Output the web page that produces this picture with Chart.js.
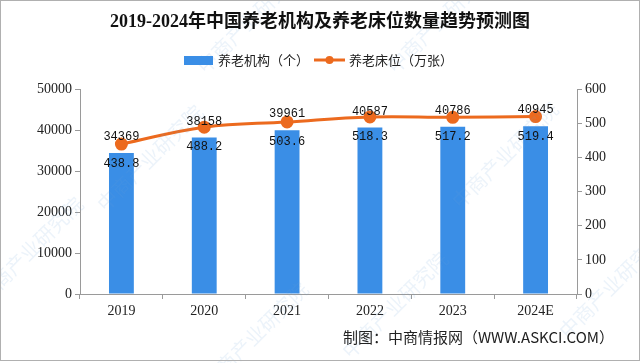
<!DOCTYPE html>
<html>
<head>
<meta charset="utf-8">
<script src="https://cdn.jsdelivr.net/npm/chart.js@4"></script>
<style>
  html, body { margin: 0; padding: 0; background: #fff; }
  #wrap { width: 640px; height: 363px; }
</style>
</head>
<body>
<div id="wrap"><canvas id="chart" width="640" height="363"></canvas></div>
<script>
// data
const years = ['2019', '2020', '2021', '2022', '2023', '2024E'];
const institutions = [34369, 38158, 39961, 40587, 40786, 40945]; // 养老机构（个）
const beds = [438.8, 488.2, 503.6, 518.3, 517.2, 519.4];        // 养老床位（万张）
const leftTicks = [0, 10000, 20000, 30000, 40000, 50000];
const rightTicks = [0, 100, 200, 300, 400, 500, 600];

const BLUE = '#3a8ee6';
const ORANGE = '#ec6a1e';
const AXIS = '#9a9a9a';
const serif = '"Liberation Serif", "Noto Sans CJK SC", serif';
const cjk = '"Noto Sans CJK SC", sans-serif';
const mono = '"Liberation Mono", monospace';

// 🔹 titles, legend, labels, watermark
const extras = {
    id: 'extras',
    afterDatasetsDraw(chart) {
        const ctx = chart.ctx;
        ctx.save();

        // faint watermark
        ctx.fillStyle = 'rgba(110,160,215,0.13)';
        ctx.font = '20px ' + cjk;
        ctx.textAlign = 'center';
        ctx.textBaseline = 'middle';
        [[150, 158], [505, 155], [395, 305], [30, 250], [612, 285], [255, 335], [250, 20], [440, 20]].forEach(p => {
            ctx.save();
            ctx.translate(p[0], p[1]);
            ctx.rotate(-Math.PI / 4);
            ctx.fillText('中商产业研究院', 0, 0);
            ctx.restore();
        });

        // value labels
        const barMeta = chart.getDatasetMeta(1);
        const lineMeta = chart.getDatasetMeta(0);
        ctx.fillStyle = '#111';
        ctx.font = '12px ' + mono;
        barMeta.data.forEach((bar, i) => {
            ctx.fillText(String(institutions[i]), bar.x, bar.y - 16);
        });
        lineMeta.data.forEach((pt, i) => {
            ctx.fillText(beds[i].toFixed(1), pt.x, pt.y + 20);
        });

        ctx.restore();
    },
    afterDraw(chart) {
        const ctx = chart.ctx;
        ctx.save();

        // title
        ctx.fillStyle = '#111';
        ctx.font = 'bold 18px ' + serif;
        ctx.textAlign = 'center';
        ctx.textBaseline = 'middle';
        ctx.fillText('2019-2024年中国养老机构及养老床位数量趋势预测图', 320, 22);

        // legend
        ctx.fillStyle = BLUE;
        ctx.fillRect(184, 56, 29, 9);
        ctx.fillStyle = '#222';
        ctx.font = '13px ' + cjk;
        ctx.textAlign = 'left';
        ctx.fillText('养老机构（个）', 218, 60);
        ctx.strokeStyle = ORANGE;
        ctx.lineWidth = 3;
        ctx.beginPath();
        ctx.moveTo(314, 60);
        ctx.lineTo(345, 60);
        ctx.stroke();
        ctx.fillStyle = ORANGE;
        ctx.beginPath();
        ctx.arc(329.5, 60, 4, 0, Math.PI * 2);
        ctx.fill();
        ctx.fillStyle = '#222';
        ctx.fillText('养老床位（万张）', 349, 60);

        // source
        ctx.font = '15px ' + cjk;
        ctx.textAlign = 'right';
        ctx.fillStyle = '#222';
        ctx.fillText('制图：中商情报网（WWW.ASKCI.COM）', 614, 337);

        // frame
        ctx.strokeStyle = '#b0b0b0';
        ctx.lineWidth = 1;
        ctx.strokeRect(0.5, 0.5, 639, 360);

        ctx.restore();
    }
};

const tickFont = { family: serif, size: 14 };
const plain = v => String(v);

new Chart(document.getElementById('chart'), {
    type: 'bar',
    data: {
        labels: years,
        datasets: [{
            type: 'line',
            label: '养老床位（万张）',
            data: beds,
            yAxisID: 'y1',
            borderColor: ORANGE,
            backgroundColor: ORANGE,
            borderWidth: 3,
            pointRadius: 5,
            pointHoverRadius: 5,
            tension: 0.4,
            order: 0
        }, {
            type: 'bar',
            label: '养老机构（个）',
            data: institutions,
            yAxisID: 'y',
            backgroundColor: BLUE,
            barPercentage: 0.3,
            categoryPercentage: 1,
            order: 1
        }]
    },
    options: {
        responsive: false,
        animation: false,
        devicePixelRatio: 1,
        layout: { padding: { top: 89, bottom: 39, left: 0, right: 0 } },
        plugins: {
            legend: { display: false },
            title: { display: false },
            tooltip: { enabled: false }
        },
        scales: {
            x: {
                offset: true,
                grid: { display: true, drawOnChartArea: false, drawTicks: true, tickLength: 5, color: AXIS, offset: true },
                border: { color: AXIS },
                ticks: { font: tickFont, color: '#222', padding: 4 },
                afterFit(s) { s.height = 30; }
            },
            y: {
                position: 'left',
                min: 0,
                max: 50000,
                afterBuildTicks(s) { s.ticks = leftTicks.map(v => ({ value: v })); },
                grid: { drawOnChartArea: false, tickLength: 5, color: AXIS },
                border: { color: AXIS },
                ticks: { font: tickFont, color: '#222', padding: 3, callback: plain },
                afterFit(s) { s.width = 80; }
            },
            y1: {
                position: 'right',
                min: 0,
                max: 600,
                afterBuildTicks(s) { s.ticks = rightTicks.map(v => ({ value: v })); },
                grid: { drawOnChartArea: false, tickLength: 5, color: AXIS },
                border: { color: AXIS },
                ticks: { font: tickFont, color: '#222', padding: 3, callback: plain },
                afterFit(s) { s.width = 63; }
            }
        }
    },
    plugins: [extras]
});
</script>
</body>
</html>
